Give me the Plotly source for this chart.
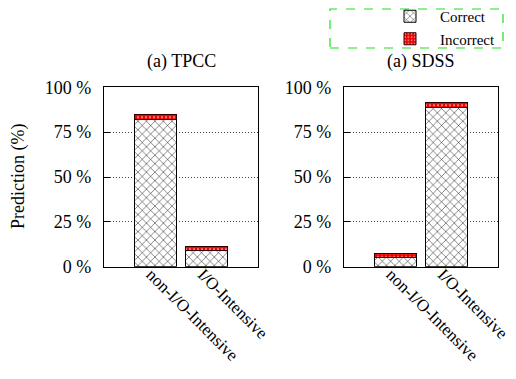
import plotly.graph_objects as go

categories = ["non-I/O-Intensive", "I/O-Intensive"]
tpcc_correct = [82, 9]
tpcc_incorrect = [3, 2.5]
sdss_correct = [5, 89]
sdss_incorrect = [2.5, 2.5]
panel_titles = ["(a) TPCC", "(a) SDSS"]
y_ticks = [0, 25, 50, 75, 100]
y_tick_labels = ["0 %", "25 %", "50 %", "75 %", "100 %"]
series_names = ["Correct", "Incorrect"]

# The page body has an 8px default margin, so the figure is sized to fit the window.
OFF = 8
W, H = 516 - OFF, 379 - OFF
FONT = "Liberation Serif, Times New Roman, serif"

def px_x(p):
    return (p - OFF) / W

def px_y(p):
    return 1 - (p - OFF) / H

fig = go.Figure()

correct_style = dict(
    color="white",
    line=dict(color="black", width=1),
    pattern=dict(shape="x", fgcolor="black", bgcolor="white", size=6, solidity=0.15, fgopacity=1),
)
incorrect_style = dict(
    color="#e00000",
    line=dict(color="#300000", width=1),
    pattern=dict(shape=".", fgcolor="white", bgcolor="#ee0000", size=4, solidity=0.25),
)

for i, (corr, inc) in enumerate([(tpcc_correct, tpcc_incorrect), (sdss_correct, sdss_incorrect)]):
    xa = "x" if i == 0 else "x2"
    ya = "y" if i == 0 else "y2"
    fig.add_trace(go.Bar(x=list(range(len(categories))), y=corr, name=series_names[0],
                         marker=correct_style, width=0.82, xaxis=xa, yaxis=ya,
                         showlegend=(i == 0), legendrank=1))
    fig.add_trace(go.Bar(x=list(range(len(categories))), y=inc, name=series_names[1],
                         marker=incorrect_style, width=0.82, xaxis=xa, yaxis=ya,
                         showlegend=(i == 0), legendrank=2))

axis_common = dict(
    showline=True, linecolor="black", linewidth=1.2, mirror=True,
)
xcommon = dict(axis_common, range=[-1, 2], tickvals=list(range(len(categories))),
               ticktext=categories, tickangle=45, ticks="", showgrid=False, zeroline=False,
               ticklabelstandoff=-10, ticklabelshift=-4, automargin=False, ticklabeloverflow="allow",
               tickfont=dict(family=FONT, size=17, color="black"))
ycommon = dict(axis_common, range=[0, 100], tickvals=y_ticks, ticktext=y_tick_labels,
               ticks="inside", ticklen=6, tickcolor="black",
               showgrid=True, gridcolor="#444444", griddash="1px,2px", gridwidth=1,
               ticklabelstandoff=8, automargin=False, ticklabeloverflow="allow",
               zeroline=False, tickfont=dict(family=FONT, size=18, color="black"))

ydom = [px_y(266.7), px_y(87.3)]
fig.update_layout(
    width=W, height=H,
    margin=dict(l=0, r=0, t=0, b=0, autoexpand=False),
    paper_bgcolor="white", plot_bgcolor="white",
    barmode="stack",
    font=dict(family=FONT, size=18, color="black"),
    xaxis=dict(xcommon, domain=[px_x(104), px_x(258)], anchor="y"),
    yaxis=dict(ycommon, domain=ydom, anchor="x"),
    xaxis2=dict(xcommon, domain=[px_x(344), px_x(498)], anchor="y2"),
    yaxis2=dict(ycommon, domain=ydom, anchor="x2"),
    legend=dict(x=px_x(500), y=px_y(0), xanchor="right", yanchor="top",
                bgcolor="rgba(0,0,0,0)", font=dict(family=FONT, size=15),
                tracegroupgap=0, itemwidth=50, traceorder="normal"),
    showlegend=True,
)

fig.add_shape(type="rect", xref="paper", yref="paper",
              x0=px_x(330), x1=px_x(503), y0=px_y(48), y1=px_y(9),
              line=dict(color="#22dd22", width=1.2, dash="dash"))

for i, t in enumerate(panel_titles):
    cx = (104 + 258) / 2 if i == 0 else (344 + 498) / 2
    fig.add_annotation(text=t, x=px_x(cx), y=px_y(62), xref="paper", yref="paper",
                       showarrow=False, xanchor="center", yanchor="middle",
                       font=dict(family=FONT, size=18))

fig.add_annotation(text="Prediction (%)", x=px_x(18), y=px_y(177), xref="paper", yref="paper",
                   showarrow=False, textangle=-90, xanchor="center", yanchor="middle",
                   font=dict(family=FONT, size=18))

fig.write_html("out.html")
